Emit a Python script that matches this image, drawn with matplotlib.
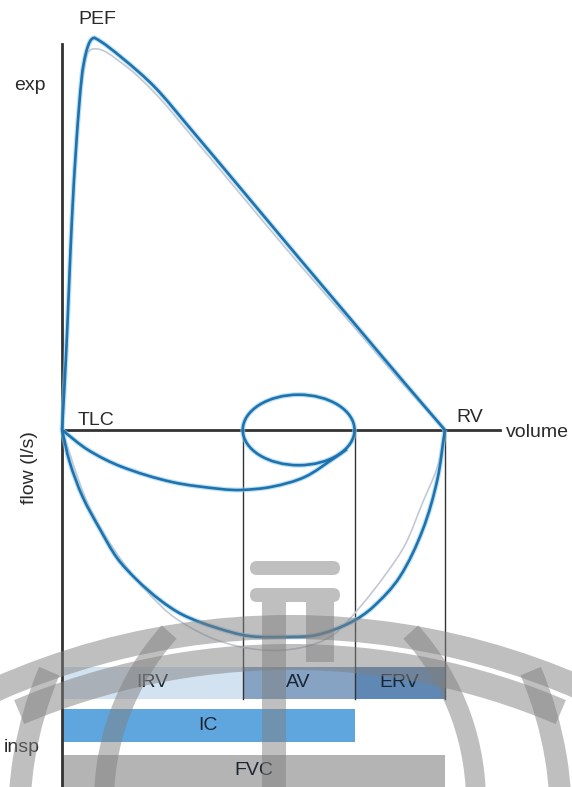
import math
import matplotlib.pyplot as plt
from matplotlib.path import Path
from matplotlib.patches import Ellipse, PathPatch, Wedge, FancyBboxPatch, Rectangle

plt.rcParams['font.family'] = ['Liberation Sans', 'DejaVu Sans']

# --- Lung volumes (l), measured from TLC towards RV ---
irv = 2.36
av = 1.46
erv = 1.18
fvc = irv + av + erv
ic = irv + av
tidal_peak_flow = 0.9

# --- Forced expiration (blue) and reference (grey) ---
exp_vol = [0, 0.05, 0.09, 0.13, 0.19, 0.26, 0.31, 0.37, 0.43, 0.78,
           1.21, 1.65, 2.36, 3.11, 3.76, 4.43, 5.0]
exp_flow = [0, 1.8, 3.6, 5.4, 7.4, 9.05, 9.6, 9.93, 10.0, 9.5,
            8.75, 7.75, 6.1, 4.35, 2.85, 1.3, 0]
ref_exp_vol = [0, 0.065, 0.13, 0.21, 0.29, 0.40, 0.78, 1.21, 1.65,
               2.23, 3.11, 3.76, 4.43, 5.0]
ref_exp_flow = [0, 2.55, 5.6, 8.0, 9.2, 9.72, 9.36, 8.6, 7.6,
                6.25, 4.2, 2.75, 1.22, 0]

# --- Forced inspiration ---
insp_vol = [0, 0.10, 0.27, 0.50, 0.72, 0.98, 1.28, 1.58, 2.02, 2.45, 2.98,
            3.33, 3.76, 4.06, 4.41, 4.71, 4.90, 5.0]
insp_flow = [0, -0.82, -1.71, -2.55, -3.27, -3.83, -4.34, -4.72, -5.05,
             -5.26, -5.28, -5.23, -4.92, -4.52, -3.75, -2.55, -1.28, 0]
ref_insp_vol = [0, 0.30, 0.56, 0.82, 1.15, 1.48, 2.02, 2.59, 3.11, 3.54,
                3.89, 4.22, 4.48, 4.71, 4.90, 5.0]
ref_insp_flow = [0, -1.71, -2.68, -3.44, -4.21, -4.80, -5.36, -5.61, -5.56,
                 -5.23, -4.52, -3.70, -2.93, -1.85, -0.95, 0]

# --- Slow inspiration from end of tidal breath to TLC ---
slow_vol = [3.72, 3.56, 3.17, 2.74, 2.35, 2.09, 1.44, 0.78, 0.34, 0]
slow_flow = [-0.49, -0.71, -1.20, -1.45, -1.53, -1.51, -1.33, -0.94, -0.51, 0]

# --- Volume bars ---
row_labels = ['IRV', 'AV', 'ERV']
row_left = [0, irv, irv + av]
row_width = [irv, av, erv]
row_colors = ['#d3e2f0', '#86a3c4', '#5f88b5']

BLUE = '#1f72ab'
HALO = '#8fcdf0'
GREY = '#c3c9d3'
INK = '#2a2a2a'
FS = 14


def smooth_path(xs, ys, k=0.51):
    # bezier through the read points, tangents taken in roughly pixel-square units
    pts = [(x, y * k) for x, y in zip(xs, ys)]
    n = len(pts)

    def tangent(i):
        a, b = pts[max(i - 1, 0)], pts[min(i + 1, n - 1)]
        dx, dy = b[0] - a[0], b[1] - a[1]
        L = math.hypot(dx, dy)
        return dx / L, dy / L

    verts, codes = [pts[0]], [Path.MOVETO]
    for i in range(n - 1):
        p, q = pts[i], pts[i + 1]
        d = math.hypot(q[0] - p[0], q[1] - p[1]) / 3
        t0, t1 = tangent(i), tangent(i + 1)
        verts += [(p[0] + t0[0] * d, p[1] + t0[1] * d),
                  (q[0] - t1[0] * d, q[1] - t1[1] * d), q]
        codes += [Path.CURVE4] * 3
    return Path([(x, y / k) for x, y in verts], codes)


fig = plt.figure(figsize=(5.72, 7.87), dpi=100)
ax = fig.add_axes([0, 0, 1, 1])
ax.set_xlim(-0.81, 6.66)
ax.set_ylim(-9.11, 10.97)
ax.axis('off')

# bars
ax.barh(-6.45, row_width, left=row_left, height=0.82, color=row_colors, zorder=1)
ax.barh(-7.54, ic, left=0, height=0.84, color='#5ea6dd', zorder=1)
ax.barh(-8.70, fvc, left=0, height=0.82, color='#b4b4b4', zorder=1)

# axes lines
ax.plot([0, 0], [-9.11, 9.85], color='#333333', lw=2, zorder=3)
ax.plot([0, 5.72], [0, 0], color='#333333', lw=2, zorder=3)
for v in [irv, ic, fvc]:
    ax.plot([v, v], [0, -6.86], color='#333333', lw=1, zorder=3)

# reference curves
for xs, ys in [(ref_exp_vol, ref_exp_flow), (ref_insp_vol, ref_insp_flow)]:
    ax.add_patch(PathPatch(smooth_path(xs, ys), fill=False, ec=GREY, lw=1.2, zorder=4))

# patient curves
for xs, ys in [(exp_vol, exp_flow), (insp_vol, insp_flow), (slow_vol, slow_flow)]:
    p = smooth_path(xs, ys)
    ax.add_patch(PathPatch(p, fill=False, ec=HALO, lw=3.6, alpha=0.6, zorder=5))
    ax.add_patch(PathPatch(p, fill=False, ec=BLUE, lw=1.9, zorder=6))

for lw, col, a, z in [(3.6, HALO, 0.6, 5), (1.9, BLUE, 1, 6)]:
    ax.add_patch(Ellipse((irv + av / 2, 0), av, 2 * tidal_peak_flow, fill=False,
                         ec=col, lw=lw, alpha=a, zorder=z))

# labels
ax.text(0.46, 10.48, 'PEF', fontsize=FS, color=INK, ha='center', va='center')
ax.text(-0.42, 8.8, 'exp', fontsize=FS, color=INK, ha='center', va='center')
ax.text(-0.42, -0.95, 'flow (l/s)', fontsize=FS, color=INK, ha='center',
        va='center', rotation=90)
ax.text(0.2, 0.13, 'TLC', fontsize=FS, color=INK, ha='left', va='baseline')
ax.text(5.33, 0.2, 'RV', fontsize=FS, color=INK, ha='center', va='baseline')
ax.text(5.8, -0.18, 'volume', fontsize=FS, color=INK, ha='left', va='baseline')
ax.text(-0.52, -8.1, 'insp', fontsize=FS, color=INK, ha='center', va='center')

for lab, left, w in zip(row_labels, row_left, row_width):
    ax.text(left + w / 2, -6.45, lab, fontsize=FS, color='#1c2633',
            ha='center', va='center', zorder=7)
ax.text(ic / 2, -7.54, 'IC', fontsize=FS, color='#1c2633', ha='center', va='center')
ax.text(fvc / 2, -8.70, 'FVC', fontsize=FS, color='#1c2633', ha='center', va='center')

# --- faint globe watermark laid over the lower part (pixel coordinates) ---
wm = fig.add_axes([0, 0, 1, 1], zorder=10)
wm.set_xlim(0, 572)
wm.set_ylim(787, 0)
wm.axis('off')
WM = dict(color='#808080', alpha=0.5, lw=0)
wm.add_patch(Wedge((290, 1350), 735, 235, 305, width=24, **WM))
wm.add_patch(Wedge((290, 1350), 706, 247, 293, width=26, **WM))
wm.add_patch(Wedge((358, 802), 264, 178, 222, width=20, **WM))
wm.add_patch(Wedge((222, 802), 264, 318, 362, width=20, **WM))
wm.add_patch(Wedge((400, 820), 392, 176, 203, width=22, **WM))
wm.add_patch(Wedge((180, 820), 392, 337, 364, width=22, **WM))
wm.add_patch(FancyBboxPatch((250, 561), 90, 14, boxstyle='round,pad=0,rounding_size=7', **WM))
wm.add_patch(FancyBboxPatch((250, 588), 90, 14, boxstyle='round,pad=0,rounding_size=7', **WM))
wm.add_patch(Rectangle((262, 602), 24, 185, **WM))
wm.add_patch(Rectangle((306, 602), 28, 60, **WM))

fig.savefig('out.png', dpi=100)
